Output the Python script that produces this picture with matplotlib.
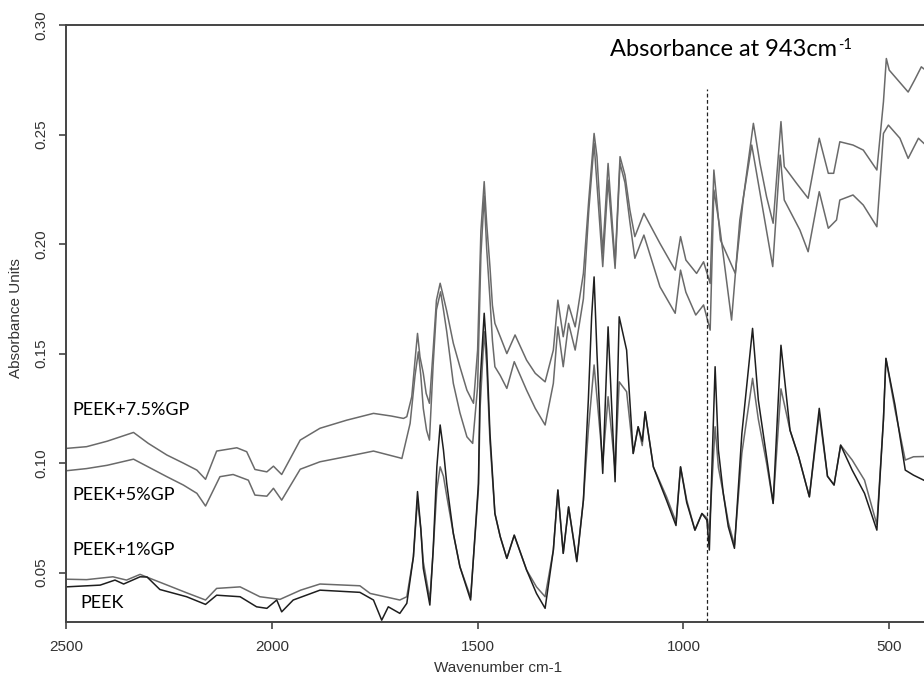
import matplotlib
matplotlib.use("Agg")
import matplotlib.pyplot as plt
from matplotlib.ticker import FormatStrFormatter

# FTIR absorbance spectra (wavenumber in cm-1, absorbance units)
wn_75 = [2500, 2450, 2400, 2360, 2336, 2300, 2255, 2215, 2182, 2161, 2134, 2085, 2061, 2041, 2012,
         1996, 1976, 1931, 1883, 1818, 1753, 1710, 1680, 1672, 1660, 1652, 1646, 1640, 1632, 1625,
         1617, 1608, 1600, 1591, 1585, 1575, 1559, 1543, 1526, 1510, 1500, 1492, 1484, 1478, 1470,
         1464, 1458, 1445, 1429, 1409, 1381, 1360, 1336, 1316, 1305, 1292, 1279, 1263, 1243, 1230,
         1217, 1210, 1196, 1183, 1166, 1154, 1142, 1130, 1118, 1096, 1057, 1020, 1007, 994, 968,
         951, 935, 926, 910, 874, 854, 830, 814, 798, 782, 763, 755, 725, 697, 670,
         648, 635, 620, 588, 563, 530, 514, 507, 500, 454, 438, 422, 416]
ab_75 = [0.1067, 0.1075, 0.1100, 0.1125, 0.1140, 0.1090, 0.1037, 0.1000, 0.0968, 0.0926, 0.1055, 0.1070, 0.1052, 0.0971, 0.0960,
         0.0986, 0.0948, 0.1105, 0.1159, 0.1196, 0.1227, 0.1215, 0.1204, 0.1212, 0.1303, 0.1470, 0.1592, 0.1485, 0.1410, 0.1318,
         0.1273, 0.1516, 0.1744, 0.1821, 0.1775, 0.1694, 0.1547, 0.1440, 0.1333, 0.1273, 0.1516, 0.2060, 0.2285, 0.2095, 0.1896,
         0.1720, 0.1638, 0.1577, 0.1500, 0.1585, 0.1470, 0.1410, 0.1371, 0.1516, 0.1744, 0.1577, 0.1722, 0.1622, 0.1866, 0.2200,
         0.2505, 0.2399, 0.1958, 0.2368, 0.1912, 0.2399, 0.2315, 0.2155, 0.2034, 0.2140, 0.2003, 0.1881, 0.2034, 0.1927, 0.1866,
         0.1919, 0.1820, 0.2338, 0.2018, 0.1866, 0.2216, 0.2551, 0.2368, 0.2216, 0.2095, 0.2559, 0.2353, 0.2277, 0.2209, 0.2483,
         0.2323, 0.2323, 0.2467, 0.2452, 0.2429, 0.2338, 0.2650, 0.2847, 0.2794, 0.2694, 0.2750, 0.2809, 0.2800]

wn_5 = [2500, 2450, 2400, 2336, 2255, 2215, 2182, 2161, 2126, 2094, 2057, 2041, 2012, 1996, 1976,
        1931, 1883, 1818, 1753, 1689, 1684, 1664, 1652, 1644, 1638, 1632, 1624, 1617, 1608, 1600,
        1590, 1583, 1575, 1559, 1543, 1526, 1512, 1500, 1492, 1484, 1478, 1470, 1464, 1458, 1445,
        1429, 1411, 1381, 1360, 1336, 1316, 1305, 1292, 1279, 1263, 1243, 1230, 1217, 1196, 1183,
        1166, 1154, 1142, 1130, 1118, 1096, 1057, 1020, 1007, 994, 970, 951, 935, 926, 912,
        883, 863, 854, 834, 783, 765, 755, 717, 697, 670, 648, 628, 620, 588, 563,
        530, 514, 502, 474, 454, 429, 416]
ab_5 = [0.0965, 0.0975, 0.0990, 0.1018, 0.0938, 0.0900, 0.0862, 0.0804, 0.0938, 0.0948, 0.0922, 0.0854, 0.0849, 0.0885, 0.0831,
        0.0972, 0.1006, 0.1030, 0.1055, 0.1024, 0.1021, 0.1181, 0.1400, 0.1508, 0.1400, 0.1250, 0.1150, 0.1105, 0.1450, 0.1700,
        0.1782, 0.1700, 0.1600, 0.1364, 0.1230, 0.1120, 0.1090, 0.1350, 0.1950, 0.2220, 0.1980, 0.1750, 0.1560, 0.1440, 0.1400,
        0.1341, 0.1463, 0.1333, 0.1250, 0.1174, 0.1364, 0.1622, 0.1440, 0.1638, 0.1516, 0.1750, 0.2150, 0.2460, 0.1897, 0.2292,
        0.1889, 0.2368, 0.2280, 0.2100, 0.1935, 0.2041, 0.1805, 0.1684, 0.1881, 0.1780, 0.1676, 0.1722, 0.1607, 0.2247, 0.2080,
        0.1653, 0.2110, 0.2216, 0.2452, 0.1897, 0.2406, 0.2201, 0.2064, 0.1965, 0.2239, 0.2072, 0.2110, 0.2201, 0.2224, 0.2178,
        0.2079, 0.2505, 0.2543, 0.2483, 0.2391, 0.2483, 0.2460]

wn_1 = [2500, 2450, 2386, 2353, 2320, 2296, 2250, 2207, 2161, 2134, 2077, 2029, 1980, 1930, 1883,
        1786, 1761, 1689, 1672, 1656, 1646, 1638, 1632, 1616, 1608, 1599, 1591, 1583, 1575, 1559,
        1543, 1517, 1498, 1494, 1484, 1478, 1470, 1458, 1445, 1429, 1411, 1381, 1357, 1336, 1316,
        1305, 1292, 1279, 1259, 1243, 1231, 1217, 1203, 1196, 1183, 1166, 1156, 1138, 1122, 1110,
        1100, 1093, 1073, 1041, 1018, 1007, 992, 972, 955, 943, 937, 923, 915, 903, 891,
        876, 858, 832, 818, 798, 782, 763, 741, 720, 694, 670, 650, 634, 618, 590,
        560, 540, 530, 514, 508, 486, 461, 441, 416]
ab_1 = [0.0470, 0.0468, 0.0481, 0.0466, 0.0492, 0.0474, 0.0440, 0.0408, 0.0375, 0.0428, 0.0435, 0.0390, 0.0378, 0.0420, 0.0448,
        0.0440, 0.0405, 0.0375, 0.0390, 0.0572, 0.0830, 0.0700, 0.0550, 0.0375, 0.0600, 0.0880, 0.0983, 0.0940, 0.0850, 0.0679,
        0.0527, 0.0388, 0.0880, 0.1250, 0.1600, 0.1450, 0.1100, 0.0770, 0.0664, 0.0565, 0.0671, 0.0512, 0.0435, 0.0390, 0.0603,
        0.0877, 0.0588, 0.0800, 0.0557, 0.0830, 0.1150, 0.1448, 0.1150, 0.1000, 0.1303, 0.0970, 0.1371, 0.1326, 0.1044, 0.1166,
        0.1080, 0.1234, 0.0983, 0.0846, 0.0732, 0.0983, 0.0831, 0.0694, 0.0770, 0.0750, 0.0694, 0.1166, 0.0980, 0.0860, 0.0730,
        0.0626, 0.1045, 0.1387, 0.1200, 0.1000, 0.0816, 0.1339, 0.1150, 0.1029, 0.0846, 0.1226, 0.0940, 0.0900, 0.1082, 0.1014,
        0.0922, 0.0786, 0.0720, 0.1200, 0.1478, 0.1244, 0.1014, 0.1029, 0.1030]

wn_peek = [2500, 2417, 2381, 2360, 2320, 2303, 2272, 2207, 2161, 2134, 2077, 2037, 2012, 1988, 1976,
           1948, 1883, 1786, 1753, 1733, 1717, 1689, 1672, 1656, 1646, 1638, 1632, 1616, 1608, 1599,
           1591, 1583, 1575, 1559, 1543, 1517, 1498, 1494, 1484, 1478, 1470, 1458, 1445, 1429, 1411,
           1381, 1357, 1336, 1316, 1305, 1292, 1279, 1259, 1243, 1231, 1223, 1217, 1210, 1203, 1196,
           1183, 1166, 1156, 1138, 1122, 1110, 1100, 1093, 1073, 1041, 1018, 1007, 992, 972, 955,
           943, 937, 923, 915, 903, 891, 876, 858, 832, 818, 798, 782, 763, 741, 720,
           694, 670, 650, 634, 618, 590, 560, 540, 530, 514, 508, 486, 461, 441, 416]
ab_peek = [0.0435, 0.0443, 0.0466, 0.0448, 0.0481, 0.0480, 0.0423, 0.0390, 0.0355, 0.0397, 0.0390, 0.0344, 0.0337, 0.0375, 0.0321,
           0.0375, 0.0420, 0.0410, 0.0375, 0.0283, 0.0344, 0.0314, 0.0360, 0.0572, 0.0870, 0.0700, 0.0520, 0.0352, 0.0603, 0.0983,
           0.1174, 0.1060, 0.0907, 0.0679, 0.0527, 0.0375, 0.0907, 0.1364, 0.1684, 0.1516, 0.1136, 0.0770, 0.0664, 0.0565, 0.0671,
           0.0512, 0.0405, 0.0337, 0.0603, 0.0877, 0.0588, 0.0800, 0.0550, 0.0831, 0.1288, 0.1668, 0.1850, 0.1500, 0.1210, 0.0953,
           0.1622, 0.0915, 0.1668, 0.1516, 0.1044, 0.1166, 0.1100, 0.1234, 0.0983, 0.0830, 0.0715, 0.0983, 0.0820, 0.0694, 0.0770,
           0.0740, 0.0603, 0.1440, 0.1060, 0.0860, 0.0710, 0.0611, 0.1135, 0.1615, 0.1288, 0.1029, 0.0816, 0.1538, 0.1150, 0.1029,
           0.0846, 0.1250, 0.0940, 0.0900, 0.1082, 0.0968, 0.0862, 0.0750, 0.0694, 0.1200, 0.1478, 0.1265, 0.0968, 0.0945, 0.0922]

series_labels = ["PEEK+7.5%GP", "PEEK+5%GP", "PEEK+1%GP", "PEEK"]
marked_wn = 943
x_ticks = [2500, 2000, 1500, 1000, 500]
y_ticks = [0.05, 0.10, 0.15, 0.20, 0.25, 0.30]

W, H = 924, 684
fig = plt.figure(figsize=(W / 100, H / 100), dpi=100)
ax = fig.add_axes([66 / W, 1 - 621.7 / H, 1 - 66 / W, (621.7 - 25) / H])

ax.plot(wn_75, ab_75, color="#6a6a6a", lw=1.1)
ax.plot(wn_5, ab_5, color="#6a6a6a", lw=1.1)
ax.plot(wn_1, ab_1, color="#6a6a6a", lw=1.1)
ax.plot(wn_peek, ab_peek, color="#1e1e1e", lw=1.1)

ax.set_xlim(2500, 415.5)
ax.set_ylim(0.0276, 0.30)

# marker line for the reference band
ax.plot([marked_wn, marked_wn], [0.0276, 0.2708], color="#222222", lw=0.9, ls=(0, (3, 2)))

for s in ["left", "bottom", "top"]:
    ax.spines[s].set_color("#444444")
    ax.spines[s].set_linewidth(1.4)
ax.spines["right"].set_visible(False)

ax.set_xticks(x_ticks)
ax.set_yticks(y_ticks)
ax.yaxis.set_major_formatter(FormatStrFormatter("%.2f"))
ax.tick_params(axis="both", direction="out", length=5, width=1.2, color="#444444",
               labelcolor="#333333", labelsize=11, pad=8)
for lab in ax.get_xticklabels() + ax.get_yticklabels():
    lab.set_fontfamily("Liberation Sans")
for lab in ax.get_yticklabels():
    lab.set_rotation(90)
    lab.set_va("center")

fig.text(498 / W, 1 - 668 / H, "Wavenumber cm-1", ha="center", va="center",
         fontsize=11, color="#333333", family="Liberation Sans")
fig.text(16 / W, 1 - 318 / H, "Absorbance Units", ha="center", va="center",
         rotation=90, fontsize=11, color="#333333", family="Liberation Sans")

label_y = [0.1242, 0.0854, 0.0603, 0.0361]
label_x = [2485, 2485, 2485, 2466]
for name, lx, ly in zip(series_labels, label_x, label_y):
    ax.text(lx, ly, name, ha="left", va="center", fontsize=13, family="Lato", color="black")

title = ax.text(1178, 0.2886, "Absorbance at %dcm" % marked_wn, ha="left", va="center",
                fontsize=17, family="Lato", color="black")
fig.canvas.draw()
bb = title.get_window_extent()
fig.text(bb.x1 / W + 0.001, (bb.y1 + 1) / H, "-1", ha="left", va="top",
         fontsize=10.5, family="Lato", color="black")

fig.savefig("out.png", dpi=100)
